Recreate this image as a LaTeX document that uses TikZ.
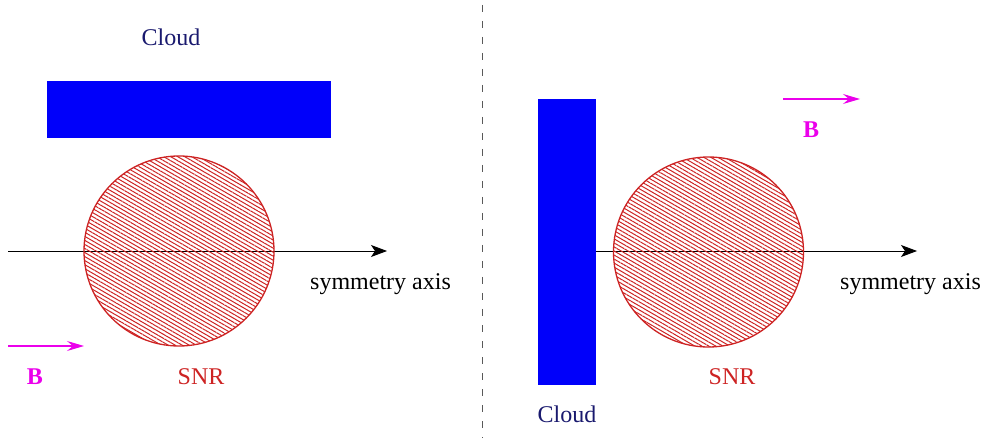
\documentclass[tikz,border=0pt]{standalone}
\usepackage{fontspec}
\setmainfont{Liberation Serif}
\usetikzlibrary{arrows.meta,patterns.meta}
\definecolor{cloudtxt}{RGB}{25,25,110}
\definecolor{snrred}{RGB}{205,35,35}
\definecolor{bmag}{RGB}{235,0,235}
\tikzset{
  cloudbox/.style={fill={rgb,255:red,0;green,0;blue,250}, draw=none},
  snr/.style={circle, draw=snrred, line width=1.3pt, minimum size=190pt, inner sep=0pt,
    pattern={Lines[angle=-30,distance=3.5pt,line width=1pt]}, pattern color=snrred},
  axisarrow/.style={line width=0.9pt, -{Stealth[length=16pt,width=12pt,inset=4pt]}},
  barrow/.style={draw=bmag, line width=1.1pt, -{Stealth[length=17pt,width=10pt,inset=6pt]}},
  lbl/.style={font=\fontsize{24}{26}\selectfont, inner sep=0pt},
  cloudlbl/.style={lbl, text=cloudtxt},
  snrlbl/.style={lbl, text=snrred},
  blbl/.style={lbl, text=bmag, font=\fontsize{24}{26}\selectfont\bfseries},
}
\begin{document}
\begin{tikzpicture}[x=1pt,y=-1pt]
\useasboundingbox (0,0) rectangle (985,438);
% divider
\coordinate (dtop) at (482,5);
\coordinate (dbot) at (482,438);
\draw[gray!70!black, line width=0.9pt, dash pattern=on 7pt off 9pt] (dtop) -- (dbot);

% ---------- left panel ----------
\node[cloudlbl] (cloudL) at (171,37) {Cloud};
\node[cloudbox, minimum width=284pt, minimum height=57pt, inner sep=0pt] (rectL) at (189,109.5) {};
\coordinate (axL0) at (8,251);
\coordinate (axL1) at (387,251);
\draw[axisarrow] (axL0) -- (axL1);
\node[snr] (snrL) at (179,251) {};
\node[lbl, anchor=base west] (symL) at (310,290) {symmetry axis};
\coordinate (bL0) at (8,346);
\coordinate (bL1) at (84,346);
\draw[barrow] (bL0) -- (bL1);
\node[blbl] (bL) at (35,377) {B};
\node[snrlbl] (snrlblL) at (201,377) {SNR};

% ---------- right panel ----------
\node[cloudbox, minimum width=58pt, minimum height=286pt, inner sep=0pt] (rectR) at (567,242) {};
\coordinate (axR1) at (917,251);
\draw[axisarrow] (rectR.east |- 0,251) -- (axR1);
\node[snr] (snrR) at (708.5,252) {};
\node[lbl, anchor=base west] (symR) at (840,290) {symmetry axis};
\coordinate (bR0) at (783,99);
\coordinate (bR1) at (860,99);
\draw[barrow] (bR0) -- (bR1);
\node[blbl] (bR) at (811,130) {B};
\node[snrlbl] (snrlblR) at (732,377) {SNR};
\node[cloudlbl] (cloudR) at (567,414) {Cloud};
\end{tikzpicture}
\end{document}
